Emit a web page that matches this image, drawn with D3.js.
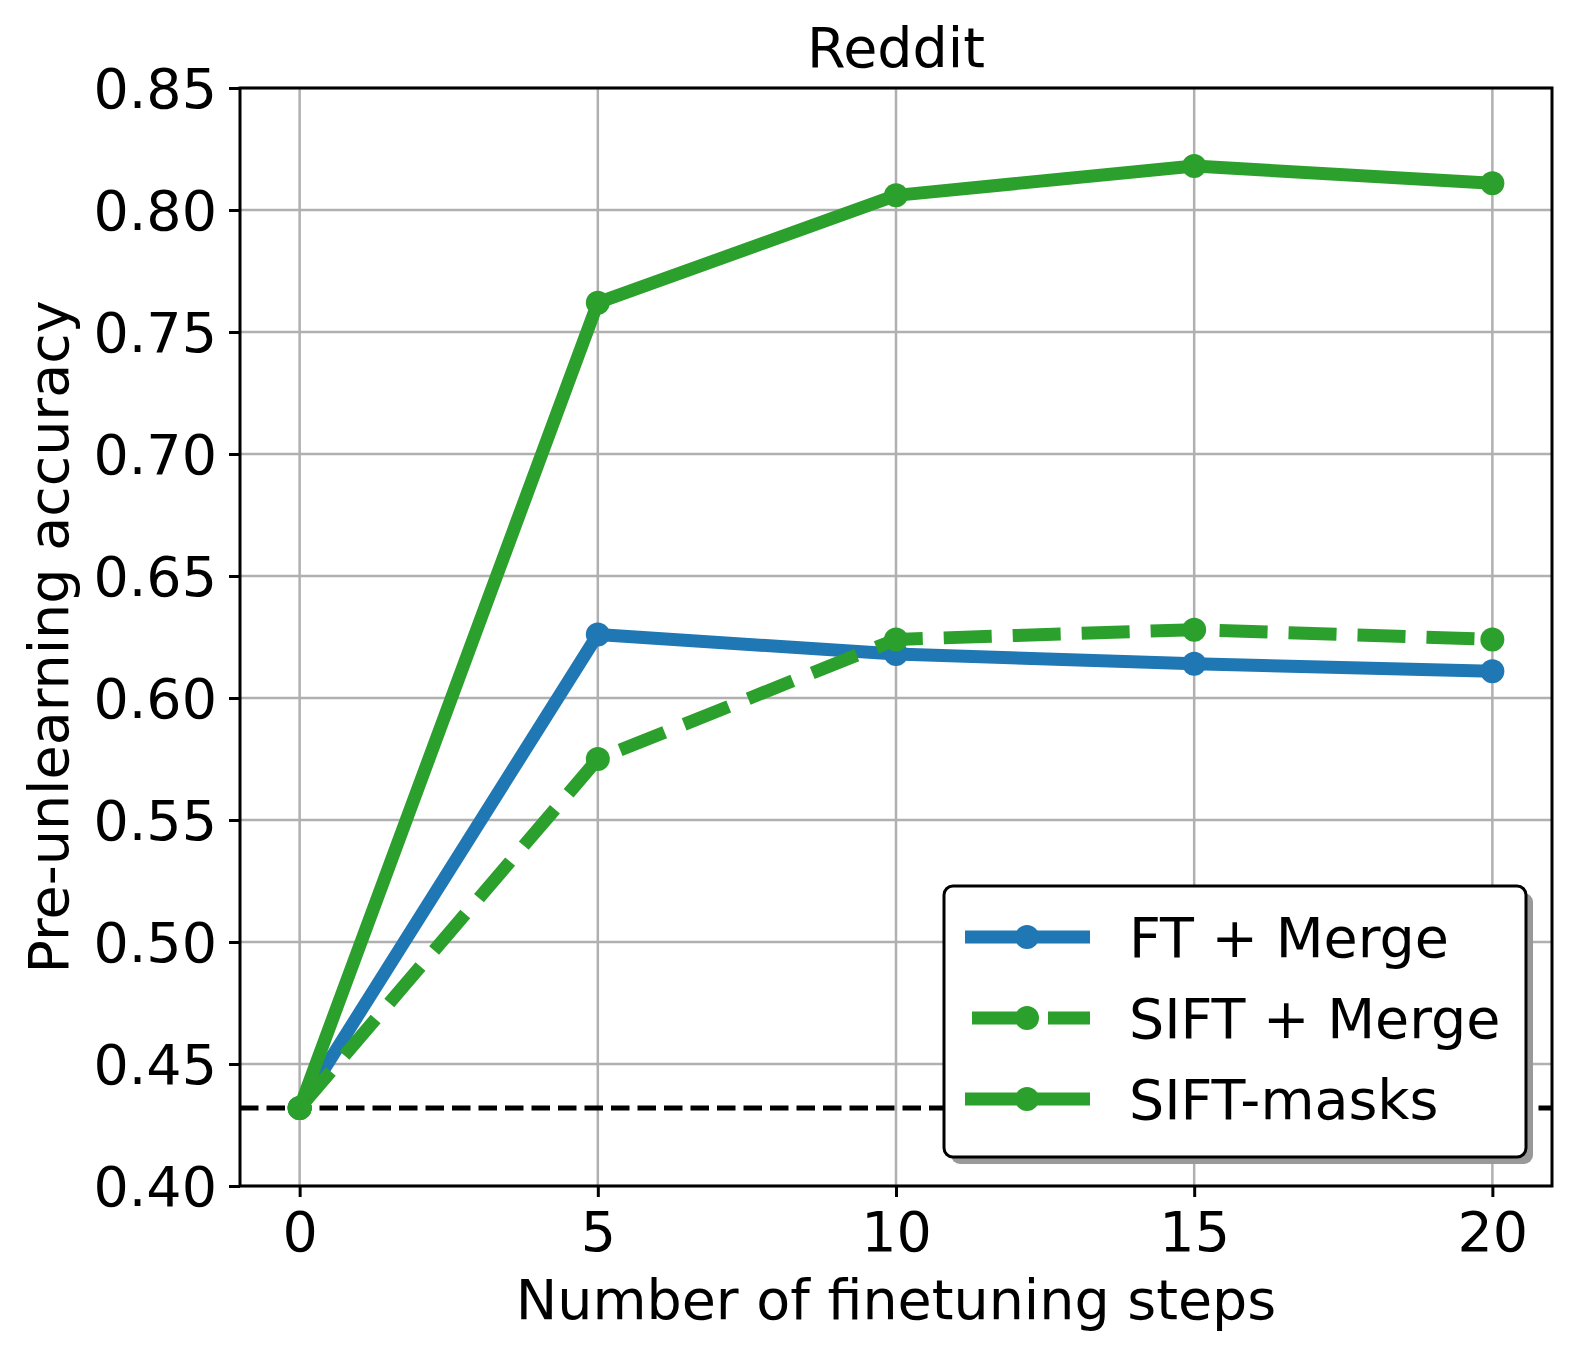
<!DOCTYPE html>
<html>
<head>
<meta charset="utf-8">
<script src="https://cdn.jsdelivr.net/npm/d3@7"></script>
<style>
  body { margin: 0; background: #fff; }
  svg { display: block; font-family: "DejaVu Sans", sans-serif; }
</style>
</head>
<body>
<svg id="chart"></svg>
<script>
// Data
const steps = [0, 5, 10, 15, 20];
const ftMerge = [0.432, 0.626, 0.618, 0.614, 0.611];
const siftMerge = [0.432, 0.575, 0.624, 0.628, 0.624];
const siftMasks = [0.432, 0.762, 0.806, 0.818, 0.811];
const baseline = 0.432;
const xTicks = [0, 5, 10, 15, 20];
const yTicks = [0.40, 0.45, 0.50, 0.55, 0.60, 0.65, 0.70, 0.75, 0.80, 0.85];

const series = [
  { name: "FT + Merge", values: ftMerge, color: "#1f77b4", dashed: false },
  { name: "SIFT + Merge", values: siftMerge, color: "#2ca02c", dashed: true },
  { name: "SIFT-masks", values: siftMasks, color: "#2ca02c", dashed: false }
];

const width = 1578, height = 1356;
const margin = { left: 240, right: 26, top: 88, bottom: 170 };
const plotW = width - margin.left - margin.right;
const plotH = height - margin.top - margin.bottom;
const fontSize = 55.5;
const lw = 13;

const svg = d3.select("#chart").attr("width", width).attr("height", height);

const x = d3.scaleLinear().domain([-1, 21]).range([0, plotW]);
const y = d3.scaleLinear().domain([0.40, 0.85]).range([plotH, 0]);

const g = svg.append("g").attr("transform", `translate(${margin.left},${margin.top})`);

// Grid
g.append("g")
  .selectAll("line.vgrid")
  .data(xTicks)
  .enter()
  .append("line")
  .attr("x1", d => x(d)).attr("x2", d => x(d))
  .attr("y1", 0).attr("y2", plotH)
  .attr("stroke", "#b0b0b0").attr("stroke-width", 2.5);

g.append("g")
  .selectAll("line.hgrid")
  .data(yTicks)
  .enter()
  .append("line")
  .attr("x1", 0).attr("x2", plotW)
  .attr("y1", d => y(d)).attr("y2", d => y(d))
  .attr("stroke", "#b0b0b0").attr("stroke-width", 2.5);

// Baseline
g.append("line")
  .attr("x1", 0).attr("x2", plotW)
  .attr("y1", y(baseline)).attr("y2", y(baseline))
  .attr("stroke", "#000").attr("stroke-width", 5)
  .attr("stroke-dasharray", "18.5,8");

// Lines + markers
const line = d3.line().x((d, i) => x(steps[i])).y(d => y(d));

series.forEach(s => {
  g.append("path")
    .datum(s.values)
    .attr("d", line)
    .attr("fill", "none")
    .attr("stroke", s.color)
    .attr("stroke-width", lw)
    .attr("stroke-linejoin", "round")
    .attr("stroke-dasharray", s.dashed ? "48,21" : null);

  g.selectAll(null)
    .data(s.values)
    .enter()
    .append("circle")
    .attr("cx", (d, i) => x(steps[i]))
    .attr("cy", d => y(d))
    .attr("r", 12)
    .attr("fill", s.color);
});

// Axes
const xAxis = g.append("g")
  .attr("transform", `translate(0,${plotH})`)
  .call(d3.axisBottom(x).tickValues(xTicks).tickSize(11).tickSizeOuter(0).tickPadding(14));
const yAxis = g.append("g")
  .call(d3.axisLeft(y).tickValues(yTicks).tickFormat(d3.format(".2f")).tickSize(11).tickSizeOuter(0).tickPadding(12));

[xAxis, yAxis].forEach(ax => {
  ax.select(".domain").remove();
  ax.selectAll(".tick line").attr("stroke", "#000").attr("stroke-width", 3);
  ax.selectAll(".tick text")
    .attr("fill", "#000")
    .style("font-size", fontSize + "px")
    .style("font-family", "DejaVu Sans");
});
xAxis.selectAll(".tick text").attr("dy", "0.72em");
yAxis.selectAll(".tick text").attr("dy", "0.36em");

// Spines
g.append("rect")
  .attr("x", 0).attr("y", 0)
  .attr("width", plotW).attr("height", plotH)
  .attr("fill", "none").attr("stroke", "#000").attr("stroke-width", 3);

// Title and labels
svg.append("text")
  .attr("x", margin.left + plotW / 2).attr("y", 67)
  .attr("text-anchor", "middle")
  .style("font-size", fontSize + "px")
  .text("Reddit");

svg.append("text")
  .attr("x", margin.left + plotW / 2).attr("y", 1319)
  .attr("text-anchor", "middle")
  .style("font-size", fontSize + "px")
  .text("Number of finetuning steps");

svg.append("text")
  .attr("transform", `translate(68,${margin.top + plotH / 2}) rotate(-90)`)
  .attr("text-anchor", "middle")
  .style("font-size", fontSize + "px")
  .text("Pre-unlearning accuracy");

// Legend
const legend = svg.append("g").attr("transform", "translate(944,886)");
const legW = 582, legH = 271;

legend.append("rect")
  .attr("x", 7).attr("y", 7)
  .attr("width", legW).attr("height", legH)
  .attr("rx", 9)
  .attr("fill", "#999");

legend.append("rect")
  .attr("x", 0).attr("y", 0)
  .attr("width", legW).attr("height", legH)
  .attr("rx", 9)
  .attr("fill", "#fff").attr("stroke", "#000").attr("stroke-width", 3);

const rows = legend.selectAll(".row")
  .data(series)
  .enter()
  .append("g")
  .attr("transform", (d, i) => `translate(0,${51 + i * 81})`);

rows.append("line")
  .attr("x1", 21).attr("x2", 146)
  .attr("y1", 0).attr("y2", 0)
  .attr("stroke", d => d.color)
  .attr("stroke-width", lw)
  .attr("stroke-dasharray", d => d.dashed ? "0,7,48,21" : null);

rows.append("circle")
  .attr("cx", 83).attr("cy", 0).attr("r", 12)
  .attr("fill", d => d.color);

rows.append("text")
  .attr("x", 185).attr("y", 0).attr("dy", "0.36em")
  .style("font-size", fontSize + "px")
  .text(d => d.name);
</script>
</body>
</html>
